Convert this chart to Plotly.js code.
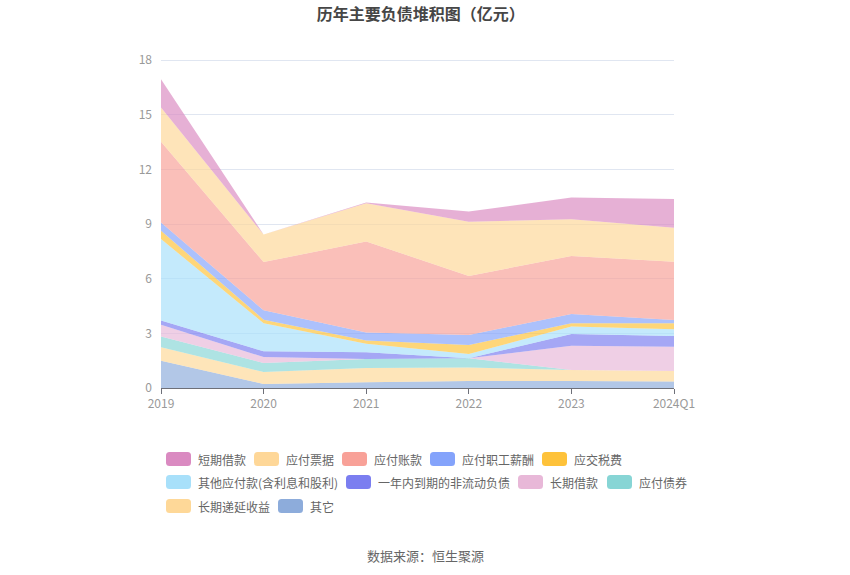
<!DOCTYPE html>
<html>
<head>
<meta charset="utf-8">
<script src="https://cdn.plot.ly/plotly-3.0.1.min.js"></script>
<style>html,body{margin:0;padding:0;background:#fff;}#chart{width:850px;height:575px;}</style>
</head>
<body>
<div id="chart"></div>
<script>
// ---- data (亿元) ----
const years = ['2019', '2020', '2021', '2022', '2023', '2024Q1'];
const qita        = [1.50, 0.22, 0.31, 0.38, 0.38, 0.35]; // 其它
const changqiDiyan = [0.73, 0.66, 0.79, 0.74, 0.61, 0.58]; // 长期递延收益
const yingfuZhaiquan = [0.60, 0.49, 0.49, 0.51, 0.00, 0.00]; // 应付债券
const changqiJiekuan = [0.64, 0.33, 0.00, 0.00, 1.33, 1.34]; // 长期借款
const yinianNei   = [0.24, 0.31, 0.37, 0.00, 0.64, 0.58]; // 一年内到期的非流动负债
const qitaYingfu  = [4.46, 1.55, 0.47, 0.24, 0.41, 0.37]; // 其他应付款(含利息和股利)
const yingjiaoShuifei = [0.46, 0.19, 0.17, 0.49, 0.18, 0.33]; // 应交税费
const zhigongXinchou = [0.45, 0.51, 0.45, 0.55, 0.51, 0.18]; // 应付职工薪酬
const yingfuZhangkuan = [4.44, 2.65, 4.99, 3.24, 3.18, 3.20]; // 应付账款
const yingfuPiaoju = [1.87, 1.51, 2.10, 2.98, 2.02, 1.87]; // 应付票据
const duanqiJiekuan = [1.55, 0.00, 0.04, 0.55, 1.20, 1.57]; // 短期借款
const yTicks = [0, 3, 6, 9, 12, 15, 18];

// stack order bottom -> top
const series = [
  {name: '其它', values: qita},
  {name: '长期递延收益', values: changqiDiyan},
  {name: '应付债券', values: yingfuZhaiquan},
  {name: '长期借款', values: changqiJiekuan},
  {name: '一年内到期的非流动负债', values: yinianNei},
  {name: '其他应付款(含利息和股利)', values: qitaYingfu},
  {name: '应交税费', values: yingjiaoShuifei},
  {name: '应付职工薪酬', values: zhigongXinchou},
  {name: '应付账款', values: yingfuZhangkuan},
  {name: '应付票据', values: yingfuPiaoju},
  {name: '短期借款', values: duanqiJiekuan}
];

// ---- styles ----
const colors = {
  '短期借款': '#da8ac1',
  '应付票据': '#fed798',
  '应付账款': '#f8a198',
  '应付职工薪酬': '#84a3fb',
  '应交税费': '#fec23a',
  '其他应付款(含利息和股利)': '#a8e0fa',
  '一年内到期的非流动负债': '#7b7ef0',
  '长期借款': '#e8b8d8',
  '应付债券': '#87d5d5',
  '长期递延收益': '#fed898',
  '其它': '#8dacdb'
};
function rgba(hex, a) {
  const n = parseInt(hex.slice(1), 16);
  return 'rgba(' + ((n >> 16) & 255) + ',' + ((n >> 8) & 255) + ',' + (n & 255) + ',' + a + ')';
}

const traces = series.map(s => ({
  type: 'scatter',
  mode: 'lines',
  x: years,
  y: s.values,
  name: s.name,
  stackgroup: 'one',
  line: {width: 0, color: colors[s.name], shape: 'linear'},
  fillcolor: rgba(colors[s.name], 0.68),
  hoverinfo: 'skip',
  showlegend: false
}));

// ---- custom legend (layout only) ----
const legendRows = [
  ['短期借款', '应付票据', '应付账款', '应付职工薪酬', '应交税费'],
  ['其他应付款(含利息和股利)', '一年内到期的非流动负债', '长期借款', '应付债券'],
  ['长期递延收益', '其它']
];
const legendSwatchX = [
  [166, 254, 342, 430, 542],
  [166, 346, 518, 607],
  [166, 278]
];
const legendRowY = [459, 482, 506];

// plot box: 0 at y=388px, 18 at y=60px  ->  18.222 px per unit
const L = 161, R = 674, T = 54, B = 388;
const yMax = (B - T) * 18 / 328;
const px2x = p => (p - L) / (R - L);
const py2y = p => (B - p) / (B - T);

const shapes = [];
const annotations = [];
function roundRect(w, h, r) {
  const x0 = 0, x1 = w, y0 = -h / 2, y1 = h / 2;
  return 'M' + (x0 + r) + ',' + y0 + ' L' + (x1 - r) + ',' + y0 +
    ' Q' + x1 + ',' + y0 + ' ' + x1 + ',' + (y0 + r) +
    ' L' + x1 + ',' + (y1 - r) + ' Q' + x1 + ',' + y1 + ' ' + (x1 - r) + ',' + y1 +
    ' L' + (x0 + r) + ',' + y1 + ' Q' + x0 + ',' + y1 + ' ' + x0 + ',' + (y1 - r) +
    ' L' + x0 + ',' + (y0 + r) + ' Q' + x0 + ',' + y0 + ' ' + (x0 + r) + ',' + y0 + ' Z';
}
legendRows.forEach((row, ri) => {
  row.forEach((name, ci) => {
    const sx = legendSwatchX[ri][ci];
    const cy = legendRowY[ri];
    shapes.push({
      type: 'path', xref: 'paper', yref: 'paper',
      xsizemode: 'pixel', ysizemode: 'pixel',
      xanchor: px2x(sx), yanchor: py2y(cy),
      path: roundRect(25, 14, 3.5),
      fillcolor: colors[name], line: {width: 0}
    });
    annotations.push({
      xref: 'paper', yref: 'paper', x: px2x(sx + 30), y: py2y(cy),
      xanchor: 'left', yanchor: 'middle', showarrow: false,
      text: name, font: {size: 12, color: '#666'}
    });
  });
});
annotations.push({
  xref: 'paper', yref: 'paper', x: px2x(425), y: py2y(555),
  xanchor: 'center', yanchor: 'middle', showarrow: false,
  text: '数据来源：恒生聚源', font: {size: 13, color: '#666'}
});

const layout = {
  width: 850, height: 575,
  margin: {l: L, r: 850 - R, t: T, b: 575 - B, pad: 0},
  paper_bgcolor: '#fff', plot_bgcolor: '#fff',
  font: {family: '"Noto Sans CJK SC", "Noto Sans", sans-serif', color: '#666'},
  title: {
    text: '<b>历年主要负债堆积图（亿元）</b>',
    x: 0.495, xanchor: 'center', y: 0.975, yanchor: 'middle',
    font: {size: 16, color: '#464646'}
  },
  xaxis: {
    type: 'category', range: [0, years.length - 1],
    showgrid: false, zeroline: false,
    showline: true, linecolor: '#6e7079', linewidth: 1,
    ticks: 'outside', ticklen: 5, tickcolor: '#6e7079',
    tickfont: {size: 12, color: '#999'},
    fixedrange: true
  },
  yaxis: {
    range: [0, yMax], tickvals: yTicks, ticktext: yTicks.map(String),
    showgrid: true, gridcolor: '#e0e6f1', gridwidth: 1,
    zeroline: false, showline: false, ticks: '',
    ticklabelstandoff: 8,
    tickfont: {size: 12, color: '#999'},
    fixedrange: true
  },
  showlegend: false,
  shapes: shapes,
  annotations: annotations,
  hovermode: false
};

Plotly.newPlot('chart', traces, layout, {displayModeBar: false, staticPlot: true});
</script>
</body>
</html>
